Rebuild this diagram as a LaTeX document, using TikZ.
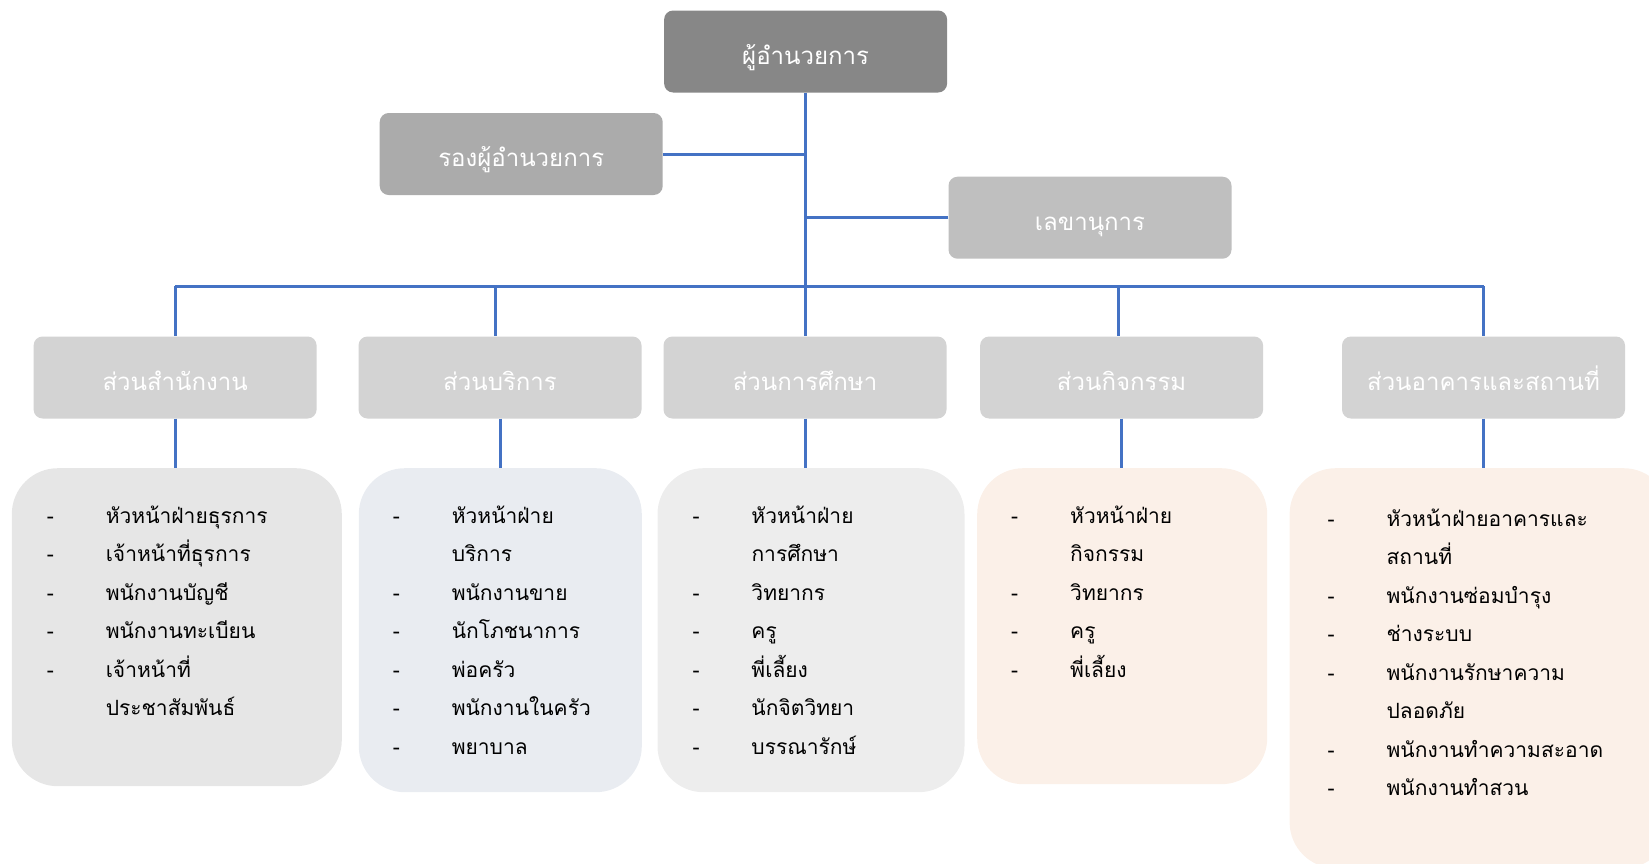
\documentclass[tikz,border=0pt]{standalone}
\usepackage{fontspec}
\usepackage{xcolor}
\usepackage{tikz}
\usetikzlibrary{positioning}
\newfontfamily\thaifont[Script=Thai]{Loma}
\definecolor{chief}{HTML}{878787}
\definecolor{deputygray}{HTML}{ABABAB}
\definecolor{secgray}{HTML}{BFBFBF}
\definecolor{unitgray}{HTML}{D3D3D3}
\definecolor{linkblue}{HTML}{4472C4}
\definecolor{listgray}{HTML}{E6E6E6}
\definecolor{listblue}{HTML}{E9ECF1}
\definecolor{listpale}{HTML}{EDEDED}
\definecolor{listwarm}{HTML}{FBF0E8}
\newcommand{\duty}[1]{\makebox[59pt][l]{-}#1}
\newcommand{\dutymore}[1]{\hspace*{59pt}#1}
\tikzset{head/.style={rounded corners=9pt,minimum width=283pt,minimum height=82pt,
  inner sep=0pt,text height=25pt,text depth=0pt,text=white,
  font=\thaifont\fontsize{24}{28}\selectfont},
  unit/.style={head,fill=unitgray},
  listbox/.style={rounded corners=46pt,inner sep=0pt,anchor=north west},
  listtext/.style={align=left,inner sep=0pt,anchor=north west,
  font=\thaifont\fontsize{21}{38.5}\selectfont},
  link/.style={draw=linkblue,line width=3pt}}

\begin{document}
\begin{tikzpicture}[x=1pt,y=-1pt]
\useasboundingbox (0,0) rectangle (1649,863);
\clip (0,0) rectangle (1649,863);
\node[head,fill=chief] (director) at (805.6,51.5) {ผู้อำนวยการ};
\node[head,fill=deputygray] (deputy) at (521.2,154) {รองผู้อำนวยการ};
\node[head,fill=secgray] (secretary) at (1090,217.7) {เลขานุการ};
\coordinate (hub) at (805.6,286);
% sections
\node[unit] (office) at (175.1,377.5) {ส่วนสำนักงาน};
\node[unit] (service) at (500,377.5) {ส่วนบริการ};
\node[unit] (education) at (805,377.5) {ส่วนการศึกษา};
\node[unit] (activity) at (1121.6,377.5) {ส่วนกิจกรรม};
\node[unit] (building) at (1483.5,377.5) {ส่วนอาคารและสถานที่};
% staff lists
\node[listbox,fill=listgray,minimum width=330pt,minimum height=318pt] (office-list) at (11.6,468) {};
\node[listbox,fill=listblue,minimum width=283pt,minimum height=324pt] (service-list) at (358.6,468) {};
\node[listbox,fill=listpale,minimum width=307pt,minimum height=324pt] (education-list) at (657.3,468) {};
\node[listbox,fill=listwarm,minimum width=290pt,minimum height=316pt] (activity-list) at (977,468) {};
\node[listbox,fill=listwarm,minimum width=380pt,minimum height=400pt] (building-list) at (1289.4,468) {};
\node[listtext] (office-text) at ([xshift=35pt,yshift=-37.5pt]office-list.north west)
{\duty{หัวหน้าฝ่ายธุรการ}\\\duty{เจ้าหน้าที่ธุรการ}\\\duty{พนักงานบัญชี}\\\duty{พนักงานทะเบียน}\\\duty{เจ้าหน้าที่}\\\dutymore{ประชาสัมพันธ์}};
\node[listtext] (service-text) at ([xshift=34pt,yshift=-37.5pt]service-list.north west)
{\duty{หัวหน้าฝ่าย}\\\dutymore{บริการ}\\\duty{พนักงานขาย}\\\duty{นักโภชนาการ}\\\duty{พ่อครัว}\\\duty{พนักงานในครัว}\\\duty{พยาบาล}};
\node[listtext] (education-text) at ([xshift=35pt,yshift=-37.5pt]education-list.north west)
{\duty{หัวหน้าฝ่าย}\\\dutymore{การศึกษา}\\\duty{วิทยากร}\\\duty{ครู}\\\duty{พี่เลี้ยง}\\\duty{นักจิตวิทยา}\\\duty{บรรณารักษ์}};
\node[listtext] (activity-text) at ([xshift=34pt,yshift=-37.5pt]activity-list.north west)
{\duty{หัวหน้าฝ่าย}\\\dutymore{กิจกรรม}\\\duty{วิทยากร}\\\duty{ครู}\\\duty{พี่เลี้ยง}};
\node[listtext] (building-text) at ([xshift=38pt,yshift=-40.5pt]building-list.north west)
{\duty{หัวหน้าฝ่ายอาคารและ}\\\dutymore{สถานที่}\\\duty{พนักงานซ่อมบำรุง}\\\duty{ช่างระบบ}\\\duty{พนักงานรักษาความ}\\\dutymore{ปลอดภัย}\\\duty{พนักงานทำความสะอาด}\\\duty{พนักงานทำสวน}};
% connectors
\draw[link] (director) -- (hub);
\draw[link] (deputy) -- (deputy -| hub);
\draw[link] (secretary) -- (secretary -| hub);
\draw[link] (office |- hub) -- (building |- hub);
\foreach \u/\dx in {office/0,service/-4.5,education/0,activity/-3.5,building/0}{
  \draw[link] ([xshift=\dx pt]\u.north |- hub) -- ([xshift=\dx pt]\u.north);
  \draw[link] (\u) -- (\u |- \u-list.north);
}
\end{tikzpicture}
\end{document}
